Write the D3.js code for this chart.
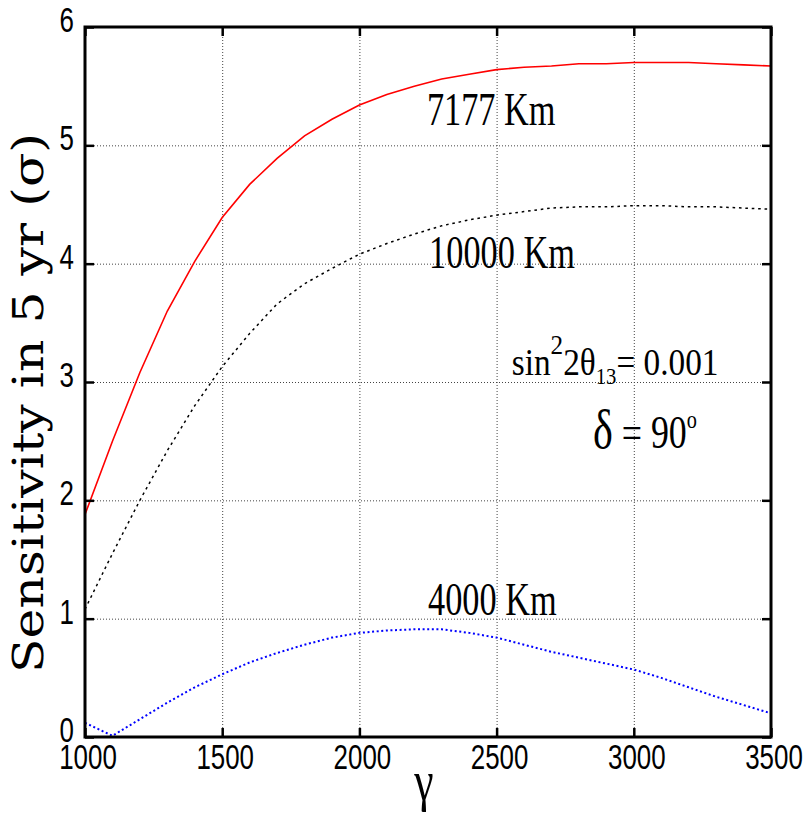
<!DOCTYPE html>
<html><head><meta charset="utf-8">
<script src="https://cdn.jsdelivr.net/npm/d3@7"></script>
<style>body{margin:0;background:#fff}</style></head>
<body><svg id="c" width="808" height="816"></svg>
<script>
const gamma  = [1000,1100,1200,1300,1400,1500,1600,1700,1800,1900,2000,2100,2200,2300,2400,2500,2600,2700,2800,2900,3000,3100,3200,3300,3400,3500];
const s7177  = [1.88,2.50,3.08,3.60,4.02,4.39,4.67,4.89,5.08,5.22,5.34,5.43,5.50,5.56,5.60,5.64,5.66,5.67,5.69,5.69,5.70,5.70,5.70,5.69,5.68,5.67];
const s10000 = [1.08,1.55,2.00,2.42,2.80,3.13,3.41,3.66,3.83,3.96,4.08,4.17,4.25,4.32,4.37,4.41,4.44,4.47,4.48,4.48,4.49,4.49,4.48,4.48,4.47,4.46];
const s4000  = [0.12,0.01,0.15,0.29,0.42,0.53,0.63,0.71,0.78,0.84,0.88,0.90,0.91,0.91,0.88,0.84,0.78,0.72,0.67,0.62,0.57,0.50,0.42,0.34,0.27,0.20];
const xTicks = [1000,1500,2000,2500,3000,3500];
const yTicks = [0,1,2,3,4,5,6];
const curveLabels = ["7177 Km","10000 Km","4000 Km"];
const yTitle = "Sensitivity in 5 yr (\u03C3)";
const xTitle = "\u03B3";

const svg = d3.select("#c");
const L=85,R=771,T=27,B=737;
const x = d3.scaleLinear().domain([1000,3500]).range([L,R]);
const y = d3.scaleLinear().domain([0,6]).range([B,T]);

svg.append("rect").attr("width",808).attr("height",816).attr("fill","#fff");

// grid
const grid = svg.append("g");
grid.append("g").attr("transform",`translate(0,${B})`)
  .call(d3.axisBottom(x).tickValues(xTicks.slice(1,-1)).tickSize(-(B-T)).tickFormat(""))
  .call(g=>g.select(".domain").remove())
  .selectAll("line").attr("stroke","#444").attr("stroke-width",1).attr("stroke-dasharray","1,2");
grid.append("g").attr("transform",`translate(${L},0)`)
  .call(d3.axisLeft(y).tickValues(yTicks.slice(1,-1)).tickSize(-(R-L)).tickFormat(""))
  .call(g=>g.select(".domain").remove())
  .selectAll("line").attr("stroke","#444").attr("stroke-width",1).attr("stroke-dasharray","1,2");

// curves
svg.append("clipPath").attr("id","clip").append("rect").attr("x",L).attr("y",T).attr("width",R-L).attr("height",B-T);
const line = vals => d3.line().x((d,i)=>x(gamma[i])).y(d=>y(d))(vals);
const cg = svg.append("g").attr("clip-path","url(#clip)");
cg.append("path").attr("d",line(s7177)).attr("fill","none").attr("stroke","#ff0000").attr("stroke-width",1.6);
cg.append("path").attr("d",line(s10000)).attr("fill","none").attr("stroke","#000").attr("stroke-width",1.5).attr("stroke-dasharray","2.6,3.8");
cg.append("path").attr("d",line(s4000)).attr("fill","none").attr("stroke","#0000ff").attr("stroke-width",2).attr("stroke-dasharray","2,2.6");

// ticks (inward) on all four sides
const tk = 9;
const axB = svg.append("g").attr("transform",`translate(0,${B})`).call(d3.axisBottom(x).tickValues(xTicks).tickSize(-tk).tickFormat(""));
const axT = svg.append("g").attr("transform",`translate(0,${T})`).call(d3.axisTop(x).tickValues(xTicks).tickSize(-tk).tickFormat(""));
const axL = svg.append("g").attr("transform",`translate(${L},0)`).call(d3.axisLeft(y).tickValues(yTicks).tickSize(-tk).tickFormat(""));
const axR = svg.append("g").attr("transform",`translate(${R},0)`).call(d3.axisRight(y).tickValues(yTicks).tickSize(-tk).tickFormat(""));
[axB,axT,axL,axR].forEach(a=>{a.selectAll(".domain").remove();a.selectAll("line").attr("stroke","#000").attr("stroke-width",2.5);});

// frame
svg.append("rect").attr("x",L).attr("y",T).attr("width",R-L).attr("height",B-T)
  .attr("fill","none").attr("stroke","#000").attr("stroke-width",3);

// tick labels
const tf = "'Liberation Sans', Arial, sans-serif";
svg.append("g").selectAll("text").data(xTicks).join("text")
  .attr("transform",d=>`translate(${x(d)+3},769) scale(0.72,1)`)
  .attr("text-anchor","middle").attr("font-family",tf).attr("font-size",36).text(d=>d);
svg.append("g").selectAll("text").data(yTicks).join("text")
  .attr("transform",d=>`translate(74,${y(d)+5}) scale(0.72,1)`)
  .attr("text-anchor","end").attr("font-family",tf).attr("font-size",36).text(d=>d);

// axis titles
svg.append("text").attr("transform",`translate(43,403) rotate(-90)`)
  .attr("text-anchor","middle").attr("font-family","'DejaVu Serif', serif").attr("font-size",42)
  .attr("textLength",540).attr("lengthAdjust","spacingAndGlyphs").text(yTitle);
svg.append("text").attr("transform",`translate(424,800) scale(0.78,1)`)
  .attr("text-anchor","middle").attr("font-family","'Liberation Serif', serif").attr("font-size",56).text(xTitle);

// curve labels
const sf = "'Liberation Serif', 'Times New Roman', serif";
const lblPos = [[2246,5.17],[2254,3.96],[2250,1.03]];
svg.append("g").selectAll("text").data(curveLabels).join("text")
  .attr("transform",(d,i)=>`translate(${x(lblPos[i][0])},${y(lblPos[i][1])}) scale(0.73,1)`)
  .attr("font-family",sf).attr("font-size",47).text(d=>d);

// annotation
const a1 = svg.append("text").attr("transform",`translate(${x(2555)},${y(3.06)}) scale(0.9,1)`)
  .attr("font-family",sf).attr("font-size",37);
a1.append("tspan").text("sin");
a1.append("tspan").attr("font-size",28).attr("dy",-21).text("2");
a1.append("tspan").attr("dy",21).text("2\u03B8");
a1.append("tspan").attr("font-size",23).attr("dy",9).text("13");
a1.append("tspan").attr("dy",-9).text("= 0.001");

const a2 = svg.append("text").attr("transform",`translate(${x(2851)},${y(2.44)}) scale(0.78,1)`)
  .attr("font-family",sf).attr("font-size",46);
a2.append("tspan").attr("font-size",54).text("\u03B4");
a2.append("tspan").text(" = 90");
a2.append("tspan").attr("font-size",26).attr("dy",-20).text("o");
</script></body></html>
